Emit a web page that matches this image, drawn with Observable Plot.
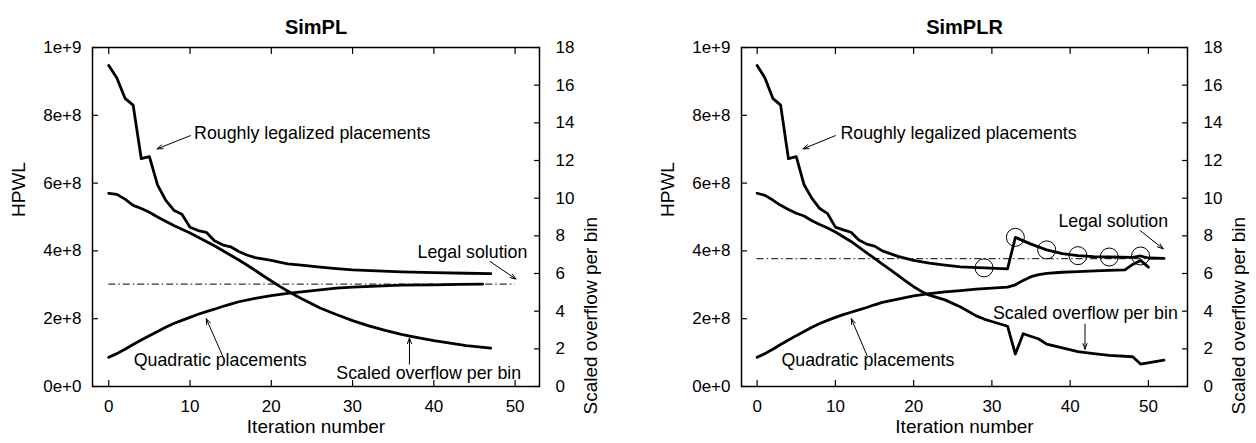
<!DOCTYPE html>
<html><head><meta charset="utf-8">
<script src="https://cdn.jsdelivr.net/npm/d3@7"></script>
<script src="https://cdn.jsdelivr.net/npm/@observablehq/plot@0.6"></script>
<style>
body{margin:0;background:#fff;}
#wrap{display:flex;width:1256px;height:443px;background:#fff;}
</style></head><body><div id="wrap"></div>
<script>
// ---------- shared ticks ----------
const xTicks = [0, 10, 20, 30, 40, 50];
const hpwlTicks = [0, 2e8, 4e8, 6e8, 8e8, 1e9];
const ovTicks = [0, 2, 4, 6, 8, 10, 12, 14, 16, 18];
const OV = 1e9 / 18; // right axis (0..18) shares the frame with HPWL (0..1e9)

// ---------- SimPL ----------
const simplLegIt  = [0,1,2,3,4,5,6,7,8,9,10,11,12,13,14,15,16,17,18,20,22,24,26,28,30,33,36,40,44,47];
const simplLegVal = [9.47,9.1,8.5,8.3,6.72,6.78,5.95,5.5,5.2,5.08,4.7,4.6,4.55,4.3,4.18,4.12,3.98,3.88,3.8,3.72,3.62,3.57,3.52,3.48,3.44,3.41,3.38,3.36,3.34,3.33]; // x1e8
const simplQuadIt  = [0,1,2,3,4,5,6,7,8,9,10,11,12,13,14,15,16,18,20,22,24,26,28,30,33,36,40,43,46];
const simplQuadVal = [0.86,0.97,1.1,1.24,1.37,1.5,1.62,1.75,1.86,1.95,2.04,2.13,2.21,2.28,2.36,2.43,2.5,2.6,2.68,2.75,2.8,2.85,2.9,2.93,2.96,2.99,3.0,3.01,3.02]; // x1e8
const simplOvIt  = [0,1,2,3,4,5,6,7,8,9,10,11,12,13,14,15,16,17,18,19,20,21,22,23,24,26,28,30,32,34,36,38,40,42,44,47];
const simplOvVal = [10.26,10.2,9.95,9.62,9.45,9.25,9.0,8.78,8.55,8.35,8.15,7.93,7.7,7.47,7.22,6.97,6.72,6.45,6.17,5.88,5.6,5.33,5.07,4.83,4.6,4.17,3.82,3.5,3.22,2.98,2.77,2.6,2.44,2.3,2.17,2.04];
const simplLegalHpwl = 3.02e8;
const simplLegalSpan = [0, 50];
const simplNoteText = ["Roughly legalized placements", "Quadratic placements", "Scaled overflow per bin", "Legal solution"];
const simplNoteX = [10.5, 3.07, 28.0, 38.0];
const simplNoteY = [7.48e8, 0.76e8, 0.375e8, 3.97e8];
const simplArrX1 = [10.05, 14.0, 37.0, 46.9];
const simplArrY1 = [7.4e8, 0.906e8, 0.66e8, 3.69e8];
const simplArrX2 = [5.95, 12.0, 37.0, 50.1];
const simplArrY2 = [7.01e8, 2.0e8, 1.43e8, 3.17e8];

// ---------- SimPLR ----------
const simplrLegIt  = [0,1,2,3,4,5,6,7,8,9,10,11,12,13,14,15,16,17,18,20,22,24,26,29,32,33,35,37,39,41,43,45,48,49,50,52];
const simplrLegVal = [9.47,9.1,8.5,8.3,6.72,6.78,5.95,5.55,5.25,5.1,4.7,4.62,4.55,4.32,4.2,4.14,4.0,3.92,3.84,3.72,3.64,3.58,3.53,3.5,3.47,4.4,4.2,4.03,3.92,3.86,3.83,3.82,3.81,3.85,3.79,3.78];
const simplrQuadIt  = [0,1,2,3,4,5,6,7,8,9,10,11,12,13,14,15,16,18,20,22,24,26,28,30,32,33,34,35,36,37,39,41,44,47,48,49,50];
const simplrQuadVal = [0.86,0.97,1.1,1.24,1.37,1.5,1.62,1.75,1.86,1.95,2.04,2.12,2.19,2.26,2.33,2.41,2.48,2.58,2.67,2.74,2.79,2.83,2.87,2.9,2.93,3.0,3.13,3.24,3.3,3.34,3.37,3.39,3.42,3.44,3.6,3.72,3.52];
const simplrOvIt  = [0,1,2,3,4,5,6,7,8,9,10,11,12,13,14,15,16,17,18,19,20,21,22,24,26,28,29,30,32,33,34,36,37,39,41,43,45,48,49,52];
const simplrOvVal = [10.26,10.15,9.9,9.62,9.4,9.2,9.05,8.8,8.6,8.42,8.2,7.95,7.7,7.4,7.1,6.8,6.5,6.2,5.9,5.6,5.3,5.05,4.85,4.6,4.22,3.75,3.58,3.45,3.2,1.72,2.8,2.52,2.25,2.05,1.85,1.75,1.65,1.58,1.19,1.4];
const simplrCircleIt = [29, 33, 37, 41, 45, 49];
const simplrLegalHpwl = 3.77e8;
const simplrLegalSpan = [0, 52];
const simplrNoteText = ["Roughly legalized placements", "Quadratic placements", "Scaled overflow per bin", "Legal solution"];
const simplrNoteX = [10.64, 3.1, 30.14, 38.5];
const simplrNoteY = [7.48e8, 0.76e8, 2.146e8, 4.88e8];
const simplrArrX1 = [10.0, 14.05, 41.9, 48.95];
const simplrArrY1 = [7.4e8, 0.906e8, 1.84e8, 4.6e8];
const simplrArrX2 = [5.87, 12.04, 41.9, 51.9];
const simplrArrY2 = [7.01e8, 2.0e8, 1.1e8, 4.06e8];

const FONT = "'Liberation Sans', Arial, Helvetica, sans-serif";

function zip(xs, ys, k = 1) { return xs.map((x, i) => ({x, y: ys[i] * k})); }

function panel(p) {
  const leg = zip(p.legIt, p.legVal, 1e8);
  const quad = zip(p.quadIt, p.quadVal, 1e8);
  const ov = zip(p.ovIt, p.ovVal, OV);
  const notes = p.noteText.map((t, i) => ({t, x: p.noteX[i], y: p.noteY[i]}));
  const arrows = p.arrX1.map((x1, i) => ({x1, y1: p.arrY1[i], x2: p.arrX2[i], y2: p.arrY2[i]}));
  const circles = (p.circleIt || []).map(it => leg.find(d => d.x === it));
  return Plot.plot({
    width: 628, height: 443,
    marginLeft: p.ml, marginRight: p.mr, marginTop: 47, marginBottom: 57,
    x: {domain: p.xDomain},
    y: {domain: [0, 1e9]},
    style: {fontFamily: FONT, fontSize: "17px", background: "white", color: "black"},
    marks: [
      Plot.ruleY([p.legal], {x1: p.legalSpan[0], x2: p.legalSpan[1], stroke: "black", strokeWidth: 1, strokeDasharray: "7,3,1.5,3"}),
      Plot.line(leg, {x: "x", y: "y", stroke: "black", strokeWidth: 2.8}),
      Plot.line(quad, {x: "x", y: "y", stroke: "black", strokeWidth: 2.8}),
      Plot.line(ov, {x: "x", y: "y", stroke: "black", strokeWidth: 2.8}),
      Plot.dot(circles, {x: "x", y: "y", r: 9, stroke: "black", strokeWidth: 1, fill: "none"}),
      Plot.arrow(arrows, {x1: "x1", y1: "y1", x2: "x2", y2: "y2", stroke: "black", strokeWidth: 1, headLength: 9, headAngle: 40}),
      Plot.text(notes, {x: "x", y: "y", text: "t", textAnchor: "start", fontSize: 17.8, fill: "black"}),
      Plot.frame({stroke: "black", strokeWidth: 1.5}),
      Plot.axisX({anchor: "bottom", ticks: xTicks, tickSize: -6, tickPadding: 19, fontSize: 17, label: null, strokeWidth: 1.2}),
      Plot.axisX({anchor: "top", ticks: xTicks, tickSize: -6, tickFormat: () => "", label: null, strokeWidth: 1.2}),
      Plot.axisY({anchor: "left", ticks: hpwlTicks, tickSize: -6, tickPadding: 17, tickFormat: d3.format(".0e"), fontSize: 17, label: null, strokeWidth: 1.2}),
      Plot.axisY({anchor: "right", ticks: ovTicks.map(v => v * OV), tickSize: -6, tickPadding: 22, tickFormat: d => String(Math.round(d / OV)), fontSize: 17, label: null, strokeWidth: 1.2}),
      Plot.text([p.title], {frameAnchor: "top", dy: -28, fontSize: 20, fontWeight: "bold", fill: "black"}),
      Plot.text(["HPWL"], {frameAnchor: "left", dx: -74, rotate: -90, fontSize: 19, fill: "black"}),
      Plot.text(["Scaled overflow per bin"], {frameAnchor: "right", dx: 51, rotate: -90, fontSize: 19, fill: "black"}),
      Plot.text(["Iteration number"], {frameAnchor: "bottom", dy: 46, fontSize: 19, fill: "black"})
    ]
  });
}

const wrap = document.getElementById("wrap");
wrap.appendChild(panel({
  title: "SimPL", ml: 92, mr: 89, xDomain: [-2, 53],
  legIt: simplLegIt, legVal: simplLegVal, quadIt: simplQuadIt, quadVal: simplQuadVal,
  ovIt: simplOvIt, ovVal: simplOvVal, legal: simplLegalHpwl, legalSpan: simplLegalSpan,
  noteText: simplNoteText, noteX: simplNoteX, noteY: simplNoteY,
  arrX1: simplArrX1, arrY1: simplArrY1, arrX2: simplArrX2, arrY2: simplArrY2
}));
wrap.appendChild(panel({
  title: "SimPLR", ml: 113, mr: 69, xDomain: [-2, 55],
  legIt: simplrLegIt, legVal: simplrLegVal, quadIt: simplrQuadIt, quadVal: simplrQuadVal,
  ovIt: simplrOvIt, ovVal: simplrOvVal, legal: simplrLegalHpwl, legalSpan: simplrLegalSpan,
  circleIt: simplrCircleIt,
  noteText: simplrNoteText, noteX: simplrNoteX, noteY: simplrNoteY,
  arrX1: simplrArrX1, arrY1: simplrArrY1, arrX2: simplrArrX2, arrY2: simplrArrY2
}));
</script></body></html>
